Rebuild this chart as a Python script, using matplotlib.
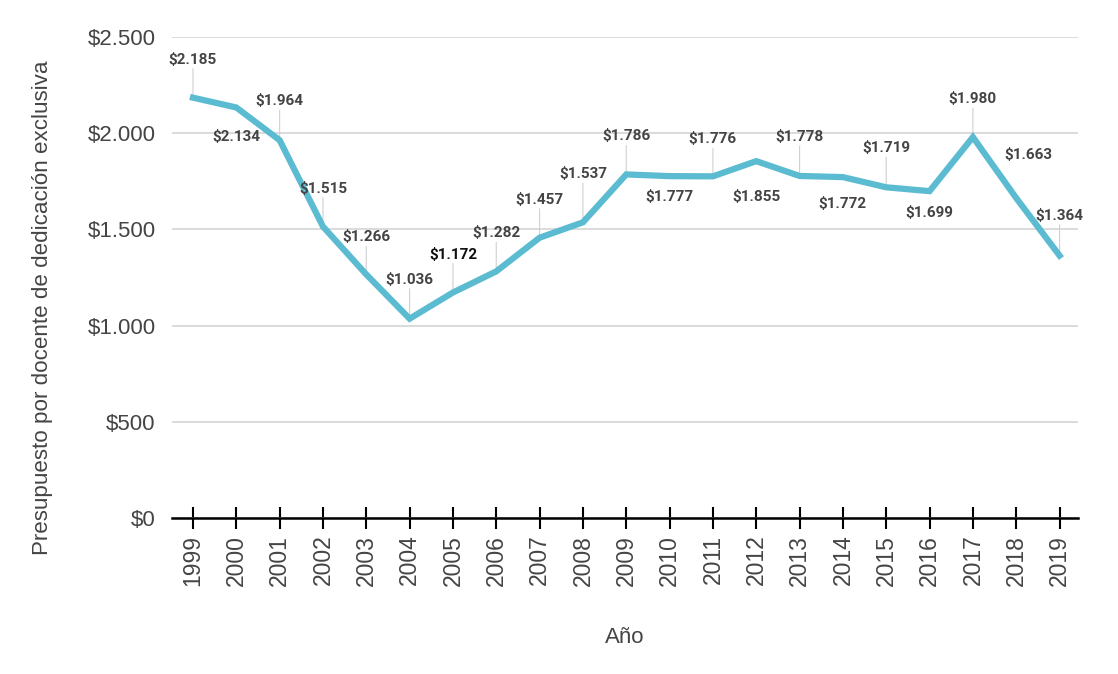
import matplotlib
matplotlib.use("Agg")
import matplotlib.pyplot as plt
from matplotlib.ticker import FuncFormatter

# --- Données ---
anios = [1999, 2000, 2001, 2002, 2003, 2004, 2005, 2006, 2007, 2008, 2009,
         2010, 2011, 2012, 2013, 2014, 2015, 2016, 2017, 2018, 2019]
valores = [2185, 2134, 1964, 1515, 1266, 1036, 1172, 1282, 1457, 1537, 1786,
           1777, 1776, 1855, 1778, 1772, 1719, 1699, 1980, 1663, 1364]

# décalages des étiquettes (pixels) : (dx, dy), dy>0 = au-dessus
offsets = [(0, 38), (0, -30), (0, 39), (0, 38), (0, 37), (0, 39), (0, 38),
           (0, 38), (0, 38), (0, 48), (0, 38), (0, -21), (0, 37), (0, -36),
           (0, 39), (0, -27), (0, 39), (0, -22), (0, 38), (12, 43), (0, 40)]
leader = [True, False, True, True, True, True, True, True, True, True, True,
          False, True, False, True, False, True, False, True, False, True]

def fmt_peso(v, pos=None):
    return "$" + f"{int(v):,}".replace(",", ".")

fig = plt.figure(figsize=(11.18, 6.74), dpi=100)
ax = fig.add_axes([0.154, 0.2315, 0.81, 0.7135])

ax.plot(anios, valores, color='#5BBCD1', linewidth=4.5, solid_joinstyle='miter', zorder=3)

for x, v, (dx, dy), lead in zip(anios, valores, offsets, leader):
    col = '#111111' if x == 2005 else '#444444'
    ax.annotate(fmt_peso(v), xy=(x, v), xytext=(dx, dy), textcoords='offset pixels',
                ha='center', va='center', fontsize=11, fontweight='bold',
                family='Roboto', color=col, zorder=4)
    if lead:
        # trait fin reliant le point à l'étiquette
        ax.annotate('', xy=(x, v), xytext=(0, dy - 9), textcoords='offset pixels',
                    arrowprops=dict(arrowstyle='-', color='#d0d0d0', lw=0.8,
                                    shrinkA=0, shrinkB=0), zorder=1)

ax.set_ylim(0, 2500)
ax.set_xlim(1998.52, 2019.42)
ax.set_yticks([0, 500, 1000, 1500, 2000, 2500])
ax.yaxis.set_major_formatter(FuncFormatter(fmt_peso))
ax.set_xticks(anios)
ax.set_xticklabels([str(a) for a in anios], rotation=90)

ax.grid(axis='y', color='#d4d4d4', linewidth=1.2)
ax.set_axisbelow(True)
for s in ['top', 'right', 'left']:
    ax.spines[s].set_visible(False)
ax.spines['bottom'].set_color('black')
ax.spines['bottom'].set_linewidth(1.8)
ax.spines['bottom'].set_zorder(5)

ax.tick_params(axis='y', length=0, pad=12, labelsize=16, labelcolor='#444444')
ax.tick_params(axis='x', direction='inout', length=16, width=1.5, color='black',
               pad=4, labelsize=16.5, labelcolor='#444444')
for lab in ax.get_xticklabels() + ax.get_yticklabels():
    lab.set_family('Liberation Sans')

ax.set_xlabel('Año', fontsize=16, color='#444444', family='Liberation Sans', labelpad=30)
ax.set_ylabel('Presupuesto por docente de dedicación exclusiva', fontsize=16.1,
              color='#444444', family='Liberation Sans', va='center')
ax.yaxis.set_label_coords(-0.1435, 0.437)

fig.savefig('out.png', dpi=100)
